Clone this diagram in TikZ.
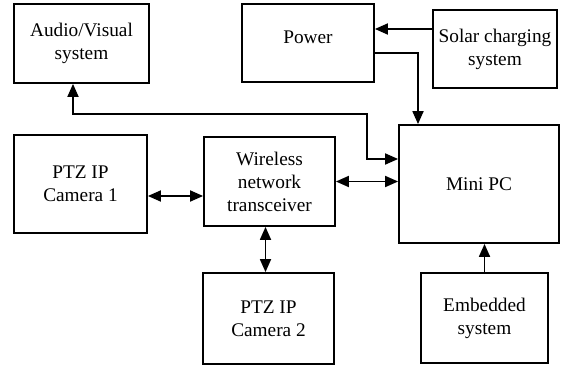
\documentclass[tikz,border=0pt]{standalone}
\usepackage{fontspec}
\setmainfont{Liberation Serif}
\usepackage{tikz}
\usetikzlibrary{arrows.meta}
\tikzset{>={Triangle[width=11pt,length=13pt]}}
\tikzset{blockbox/.style={draw, line width=1.8pt, align=center, inner sep=0pt}}

\begin{document}
\begin{tikzpicture}[x=1pt, y=-1pt, line width=1.8pt]
  \fontsize{19.3}{23}\selectfont
  \useasboundingbox (0,0) rectangle (561,366);

  %% top row
  \node[blockbox, minimum width=135pt, minimum height=79pt] (av) at (81.5,43.5) {Audio/Visual\\system};
  \node[blockbox, minimum width=132pt, minimum height=78pt] (power) at (308,43) {\raisebox{11pt}{Power}};
  \node[blockbox, minimum width=124pt, minimum height=78pt] (solar) at (495,49) {Solar charging\\system};

  %% middle row
  \node[blockbox, minimum width=133pt, minimum height=98pt] (cam1) at (80.5,184) {PTZ IP\\Camera 1};
  \node[blockbox, minimum width=131pt, minimum height=89pt] (wireless) at (269.5,181.5) {Wireless\\network\\transceiver};
  \node[blockbox, minimum width=160pt, minimum height=118pt] (minipc) at (479,184) {Mini PC};

  %% bottom row
  \node[blockbox, minimum width=131pt, minimum height=91pt] (cam2) at (268.5,318.5) {PTZ IP\\Camera 2};
  \node[blockbox, minimum width=127pt, minimum height=90pt] (embedded) at (484.5,318) {Embedded\\system};

  \coordinate (bend) at (367,114);

  %% connectors
  \draw[->] ([yshift=20pt]solar.west) -- ([yshift=20pt]solar.west -| power.east);
  \draw[->] ([yshift=-10pt]power.east) -| ([xshift=-61pt]minipc.north);
  \draw[<->] ([xshift=-8.5pt]av.south) |- (bend) |- ([yshift=25pt]minipc.west);
  \draw[<->] (wireless.east) -- (wireless.east -| minipc.west);
  \draw[<->] ([yshift=-12pt]cam1.east) -- ([yshift=-12pt]cam1.east -| wireless.west);
  \draw[<->] ([xshift=-3pt]cam2.north) -- ([xshift=-3pt]cam2.north |- wireless.south);
  \draw[->] (embedded.north) -- (embedded.north |- minipc.south);

\end{tikzpicture}
\end{document}
